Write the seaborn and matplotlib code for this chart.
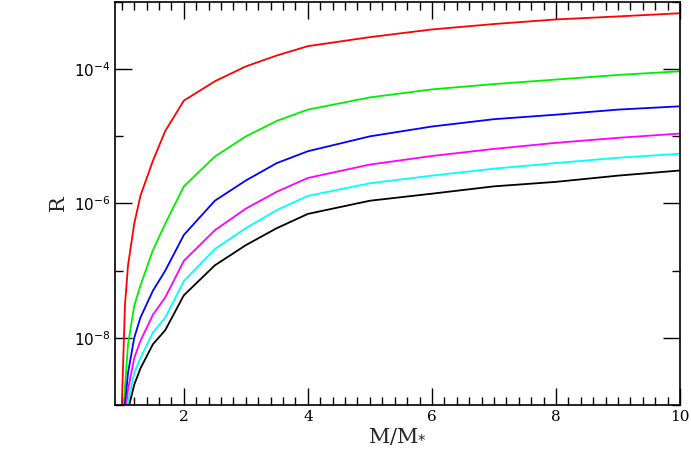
import numpy as np
import pandas as pd
import matplotlib
matplotlib.use('Agg')
import matplotlib.pyplot as plt
import seaborn as sns
from matplotlib.ticker import LogLocator, MultipleLocator, FuncFormatter

# Dados (M/M*, R)
x_red = [1.0, 1.05, 1.1, 1.2, 1.3, 1.5, 1.7, 2, 2.5, 3, 3.5, 4, 5, 6, 7, 8, 9, 10]
y_red = [1e-9, 3e-8, 1.2e-7, 5e-7, 1.3e-6, 4.3e-6, 1.2e-5, 3.4e-5, 6.6e-5, 1.1e-4, 1.6e-4,
         2.2e-4, 3e-4, 3.9e-4, 4.7e-4, 5.5e-4, 6.1e-4, 6.8e-4]

x_green = [1.03, 1.1, 1.2, 1.3, 1.5, 1.7, 2, 2.5, 3, 3.5, 4, 5, 6, 7, 8, 9, 10]
y_green = [1e-9, 8e-9, 3e-8, 6e-8, 2e-7, 5e-7, 1.8e-6, 5e-6, 1e-5, 1.7e-5, 2.5e-5,
           3.8e-5, 5e-5, 6e-5, 7e-5, 8.2e-5, 9.3e-5]

x_blue = [1.05, 1.1, 1.2, 1.3, 1.5, 1.7, 2, 2.5, 3, 3.5, 4, 5, 6, 7, 8, 9, 10]
y_blue = [1e-9, 3e-9, 1e-8, 2e-8, 5e-8, 1e-7, 3.4e-7, 1.1e-6, 2.2e-6, 4e-6, 6e-6,
          1e-5, 1.4e-5, 1.8e-5, 2.1e-5, 2.5e-5, 2.8e-5]

x_magenta = [1.07, 1.1, 1.2, 1.3, 1.5, 1.7, 2, 2.5, 3, 3.5, 4, 5, 6, 7, 8, 9, 10]
y_magenta = [1e-9, 1.7e-9, 5e-9, 9e-9, 2.2e-8, 4e-8, 1.4e-7, 4e-7, 8.4e-7, 1.5e-6, 2.4e-6,
             3.8e-6, 5.1e-6, 6.5e-6, 8e-6, 9.5e-6, 1.1e-5]

x_cyan = [1.09, 1.1, 1.2, 1.3, 1.5, 1.7, 2, 2.5, 3, 3.5, 4, 5, 6, 7, 8, 9, 10]
y_cyan = [1e-9, 1.1e-9, 3e-9, 5e-9, 1.2e-8, 2e-8, 7e-8, 2.1e-7, 4.3e-7, 8e-7, 1.3e-6,
          2e-6, 2.6e-6, 3.3e-6, 4e-6, 4.8e-6, 5.5e-6]

x_black = [1.12, 1.2, 1.3, 1.5, 1.7, 2, 2.5, 3, 3.5, 4, 5, 6, 7, 8, 9, 10]
y_black = [1e-9, 2e-9, 3.5e-9, 8e-9, 1.3e-8, 4.3e-8, 1.2e-7, 2.4e-7, 4.3e-7, 7e-7,
           1.1e-6, 1.4e-6, 1.8e-6, 2.1e-6, 2.6e-6, 3.1e-6]

series = [
    (x_red, y_red, 'red'),
    (x_green, y_green, '#00ee00'),
    (x_blue, y_blue, 'blue'),
    (x_magenta, y_magenta, 'magenta'),
    (x_cyan, y_cyan, 'cyan'),
    (x_black, y_black, 'black'),
]

sns.set_theme(style="ticks")
plt.rcParams['font.family'] = 'DejaVu Serif'

fig = plt.figure(figsize=(6.91, 4.63), dpi=100)
ax = fig.add_axes([115/691, 58/463, 565/691, 403/463])

for xs, ys, cor in series:
    df = pd.DataFrame({'x': xs, 'y': ys})
    sns.lineplot(data=df, x='x', y='y', color=cor, lw=1.3, ax=ax)

ax.set_yscale('log')
ax.set_xlim(0.89, 10)
ax.set_ylim(1e-9, 1e-3)
ax.xaxis.set_major_locator(MultipleLocator(2))
ax.xaxis.set_minor_locator(MultipleLocator(0.2))
ax.yaxis.set_major_locator(LogLocator(base=100))
ax.yaxis.set_minor_locator(LogLocator(base=10, subs=[1.0], numticks=20))
ax.yaxis.set_minor_formatter(FuncFormatter(lambda v, p: ''))
ax.yaxis.set_major_formatter(FuncFormatter(lambda v, p: r'$10^{%d}$' % round(np.log10(v))))
ax.tick_params(which='both', direction='in', top=True, right=True, colors='black', labelsize=11)
ax.tick_params(which='major', length=12, width=1)
ax.tick_params(which='minor', length=6, width=1)
for s in ax.spines.values():
    s.set_color('black')
    s.set_linewidth(1.2)
ax.set_xlabel(r'M/M$_{*}$', fontsize=15, labelpad=2)
ax.set_ylabel('R', fontsize=15)

fig.savefig('out.png', dpi=100)
